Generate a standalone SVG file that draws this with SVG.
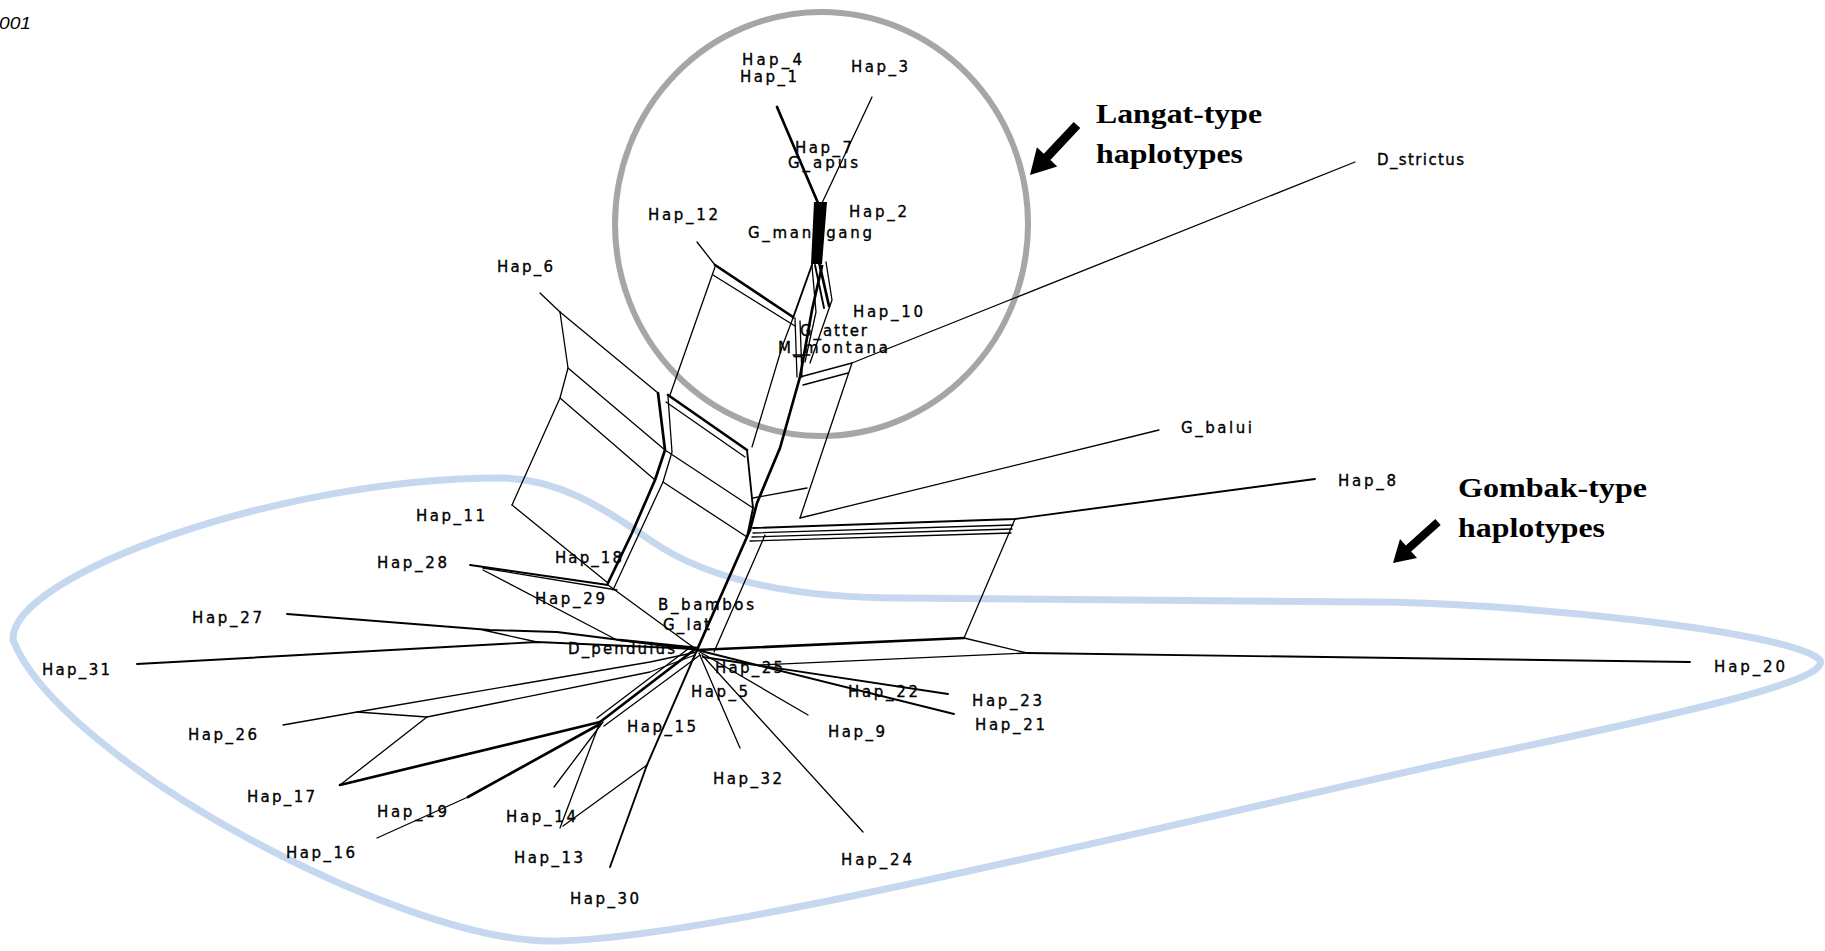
<svg xmlns="http://www.w3.org/2000/svg" width="1825" height="951" viewBox="0 0 1825 951">
  <style>
    .e { stroke: #000; stroke-width: 1.3; fill: none; stroke-linejoin: round; stroke-linecap: round; }
    .m { stroke-width: 1.9; }
    .t { stroke-width: 2.7; }
    .lbl { font-family: "DejaVu Sans", "Liberation Sans", sans-serif; font-size: 15px; fill: #000; stroke: #000; stroke-width: 0.35; }
    .ann { font-family: "Liberation Serif", "Times New Roman", serif; font-weight: bold; font-size: 28px; fill: #000; }
    .ring { fill: none; stroke: #a6a6a6; stroke-width: 6; }
    .loop { fill: none; stroke: #c6d8ef; stroke-width: 7; }
  </style>
  <rect x="0" y="0" width="1825" height="951" fill="#fff"/>

  <!-- scale bar remnant -->
  <text x="-1" y="29" font-family="Liberation Sans, sans-serif" font-style="italic" font-size="16" textLength="32" lengthAdjust="spacingAndGlyphs">001</text>

  <!-- group outlines -->
  <g id="groups">
    <ellipse class="ring" cx="821.5" cy="224" rx="206.5" ry="212"/>
    <path class="loop" d="M 13,640 C 10,575 280,478 500,478 C 555,478 600,505 650,540 C 700,575 780,598 900,598 L 1372,602 C 1500,602 1790,630 1820,660 C 1830,680 1700,710 1460,760 C 1100,840 700,941 550,941 C 400,941 60,760 13,640 Z"/>
  </g>

  <!-- taxon labels -->
  <g id="nodes">
    <g id="n-hap4"><text class="lbl" x="742" y="65" textLength="60">Hap_4</text></g>
    <g id="n-hap1"><text class="lbl" x="740" y="82" textLength="57">Hap_1</text></g>
    <g id="n-hap3"><text class="lbl" x="851" y="72" textLength="57">Hap_3</text></g>
    <g id="n-hap7"><text class="lbl" x="795" y="153" textLength="57">Hap_7</text></g>
    <g id="n-gapus"><text class="lbl" x="788" y="168" textLength="70">G_apus</text></g>
    <g id="n-hap2"><text class="lbl" x="849" y="217" textLength="58">Hap_2</text></g>
    <g id="n-hap12"><text class="lbl" x="648" y="220" textLength="70">Hap_12</text></g>
    <g id="n-gmanggang"><text class="lbl" x="748" y="238" textLength="124">G_manggang</text></g>
    <g id="n-hap10"><text class="lbl" x="853" y="317" textLength="70">Hap_10</text></g>
    <g id="n-gatter"><text class="lbl" x="800" y="336" textLength="67">G_atter</text></g>
    <g id="n-mmontana"><text class="lbl" x="778" y="353" textLength="110">M_montana</text></g>
    <g id="n-hap6"><text class="lbl" x="497" y="272" textLength="56">Hap_6</text></g>
    <g id="n-hap11"><text class="lbl" x="416" y="521" textLength="69">Hap_11</text></g>
    <g id="n-hap28"><text class="lbl" x="377" y="568" textLength="70">Hap_28</text></g>
    <g id="n-hap27"><text class="lbl" x="192" y="623" textLength="70">Hap_27</text></g>
    <g id="n-hap31"><text class="lbl" x="42" y="675" textLength="68">Hap_31</text></g>
    <g id="n-hap26"><text class="lbl" x="188" y="740" textLength="69">Hap_26</text></g>
    <g id="n-hap17"><text class="lbl" x="247" y="802" textLength="68">Hap_17</text></g>
    <g id="n-hap19"><text class="lbl" x="377" y="817" textLength="70">Hap_19</text></g>
    <g id="n-hap16"><text class="lbl" x="286" y="858" textLength="69">Hap_16</text></g>
    <g id="n-hap18"><text class="lbl" x="555" y="563" textLength="67">Hap_18</text></g>
    <g id="n-hap29"><text class="lbl" x="535" y="604" textLength="70">Hap_29</text></g>
    <g id="n-bbambos"><text class="lbl" x="658" y="610" textLength="96">B_bambos</text></g>
    <g id="n-glat"><text class="lbl" x="663" y="630" textLength="47">G_lat</text></g>
    <g id="n-dpendulus"><text class="lbl" x="568" y="654" textLength="107">D_pendulus</text></g>
    <g id="n-hap25"><text class="lbl" x="715" y="673" textLength="68">Hap_25</text></g>
    <g id="n-hap5"><text class="lbl" x="691" y="697" textLength="57">Hap_5</text></g>
    <g id="n-hap22"><text class="lbl" x="848" y="697" textLength="70">Hap_22</text></g>
    <g id="n-hap9"><text class="lbl" x="828" y="737" textLength="57">Hap_9</text></g>
    <g id="n-hap15"><text class="lbl" x="627" y="732" textLength="69">Hap_15</text></g>
    <g id="n-hap32"><text class="lbl" x="713" y="784" textLength="69">Hap_32</text></g>
    <g id="n-hap14"><text class="lbl" x="506" y="822" textLength="70">Hap_14</text></g>
    <g id="n-hap13"><text class="lbl" x="514" y="863" textLength="69">Hap_13</text></g>
    <g id="n-hap30"><text class="lbl" x="570" y="904" textLength="69">Hap_30</text></g>
    <g id="n-hap24"><text class="lbl" x="841" y="865" textLength="71">Hap_24</text></g>
    <g id="n-hap23"><text class="lbl" x="972" y="706" textLength="70">Hap_23</text></g>
    <g id="n-hap21"><text class="lbl" x="975" y="730" textLength="70">Hap_21</text></g>
    <g id="n-hap20"><text class="lbl" x="1714" y="672" textLength="71">Hap_20</text></g>
    <g id="n-hap8"><text class="lbl" x="1338" y="486" textLength="58">Hap_8</text></g>
    <g id="n-gbalui"><text class="lbl" x="1181" y="433" textLength="71">G_balui</text></g>
    <g id="n-dstrictus"><text class="lbl" x="1377" y="165" textLength="87">D_strictus</text></g>
  </g>

  <!-- network edges -->
  <g id="connectors">
    <!-- Langat cluster -->
    <polyline class="e t" points="777,107 818,203"/>
    <polyline class="e" points="872,97 822,203"/>
    <polygon points="814,202 827,202 822,264 811,264" fill="#000"/>
    <polyline class="e t" points="819,262 829,306"/>
    <polyline class="e m" points="815,265 824,308"/>
    <polyline class="e" points="812,266 816,312 805,362"/>
    <polyline class="e" points="826,262 832,300 810,363"/>
    <polyline class="e m" points="813,262 793,318"/>
    <!-- Hap_12 box -->
    <polyline class="e" points="697,242 715,265"/>
    <polyline class="e t" points="715,265 793,317"/>
    <polyline class="e" points="713,275 795,326"/>
    <polyline class="e" points="715,267 670,395"/>
    <polyline class="e t" points="668,395 747,450"/>
    <polyline class="e" points="666,402 745,457"/>
    <polyline class="e" points="793,318 782,347 752,447"/>
    <polyline class="e" points="795,318 797,377"/>
    <polyline class="e" points="800,321 802,377"/>
    <polyline class="e" points="793,355 810,355"/>
    <!-- main trunk -->
    <polyline class="e t" points="822,266 812,310 800,377 780,448 757,503 750,530"/>
    <!-- D_strictus split -->
    <polyline class="e" points="800,377 852,363"/>
    <polyline class="e" points="803,385 848,373"/>
    <polyline class="e" points="852,363 800,518"/>
    <polyline class="e" points="753,498 807,488"/>
    <polyline class="e" points="852,363 1355,162"/>
    <!-- ladder between Hap_6 and Hap_12 -->
    <polyline class="e m" points="747,450 753,508 747,537"/>
    <polyline class="e" points="665,450 753,508"/>
    <polyline class="e" points="663,482 747,537"/>
    <polyline class="e t" points="658,393 665,450 655,480 632,533 608,583"/>
    <polyline class="e" points="668,397 672,452 663,482 613,590"/>
    <polyline class="e" points="540,293 560,312"/>
    <polyline class="e" points="560,312 568,368 560,398 512,505"/>
    <polyline class="e" points="560,312 658,393"/>
    <polyline class="e" points="568,368 665,450"/>
    <polyline class="e" points="560,398 655,480"/>
    <polyline class="e" points="512,505 608,583"/>
    <polyline class="e" points="608,585 697,650"/>
    <polyline class="e t" points="750,530 697,650"/>
    <polyline class="e" points="765,535 714,652"/>
    <!-- Hap_8 / Hap_20 box -->
    <polyline class="e m" points="753,528 1015,519 1315,479"/>
    <polyline class="e" points="753,533 1013,525"/>
    <polyline class="e" points="752,537 1012,529"/>
    <polyline class="e" points="750,541 1011,533"/>
    <polyline class="e" points="1015,519 964,638"/>
    <polyline class="e" points="800,518 1159,430"/>
    <polyline class="e t" points="697,650 964,638"/>
    <polyline class="e" points="964,638 1027,653"/>
    <polyline class="e m" points="1027,653 1690,662"/>
    <polyline class="e" points="760,665 1027,653"/>
    <!-- right fan -->
    <polyline class="e m" points="697,650 954,714"/>
    <polyline class="e m" points="703,657 948,694"/>
    <polyline class="e" points="700,652 808,715"/>
    <polyline class="e" points="702,655 863,832"/>
    <polyline class="e" points="699,653 740,748"/>
    <!-- lower fan -->
    <polyline class="e m" points="697,650 647,765 610,867"/>
    <polyline class="e" points="647,765 563,826"/>
    <polyline class="e" points="600,722 560,828"/>
    <polyline class="e" points="603,722 554,787"/>
    <polyline class="e t" points="694,650 600,722"/>
    <polyline class="e" points="700,655 604,726"/>
    <polyline class="e" points="692,646 597,718"/>
    <polyline class="e t" points="600,722 340,785"/>
    <polyline class="e t" points="600,724 468,797"/>
    <polyline class="e" points="468,797 377,838"/>
    <!-- left fan -->
    <polyline class="e" points="283,725 357,712 650,662 697,652"/>
    <polyline class="e" points="357,712 427,717"/>
    <polyline class="e" points="427,717 650,672 695,655"/>
    <polyline class="e" points="427,717 340,785"/>
    <polyline class="e m" points="137,664 537,642 697,649"/>
    <polyline class="e m" points="287,614 490,630 557,632 620,640"/>
    <polyline class="e t" points="620,640 697,648"/>
    <polyline class="e" points="483,630 537,642"/>
    <polyline class="e m" points="470,565 608,585"/>
    <polyline class="e" points="483,568 617,590"/>
    <polyline class="e" points="483,570 617,640 697,650"/>
  </g>

  <!-- group annotations -->
  <g id="note-langat">
    <polygon points="1073.7,121.9 1080.3,128.1 1050.4,159.9 1057.3,166.4 1030,175 1036.9,147.2 1043.8,153.7" fill="#000"/>
    <text class="ann" x="1096" y="123" textLength="166" lengthAdjust="spacingAndGlyphs">Langat-type</text>
    <text class="ann" x="1096" y="163" textLength="147" lengthAdjust="spacingAndGlyphs">haplotypes</text>
  </g>
  <g id="note-gombak">
    <polygon points="1435.3,519 1440.7,525 1411.2,551.5 1417,558 1393,563 1400,539 1405.8,545.5" fill="#000"/>
    <text class="ann" x="1458" y="497" textLength="189" lengthAdjust="spacingAndGlyphs">Gombak-type</text>
    <text class="ann" x="1458" y="537" textLength="147" lengthAdjust="spacingAndGlyphs">haplotypes</text>
  </g>
</svg>
